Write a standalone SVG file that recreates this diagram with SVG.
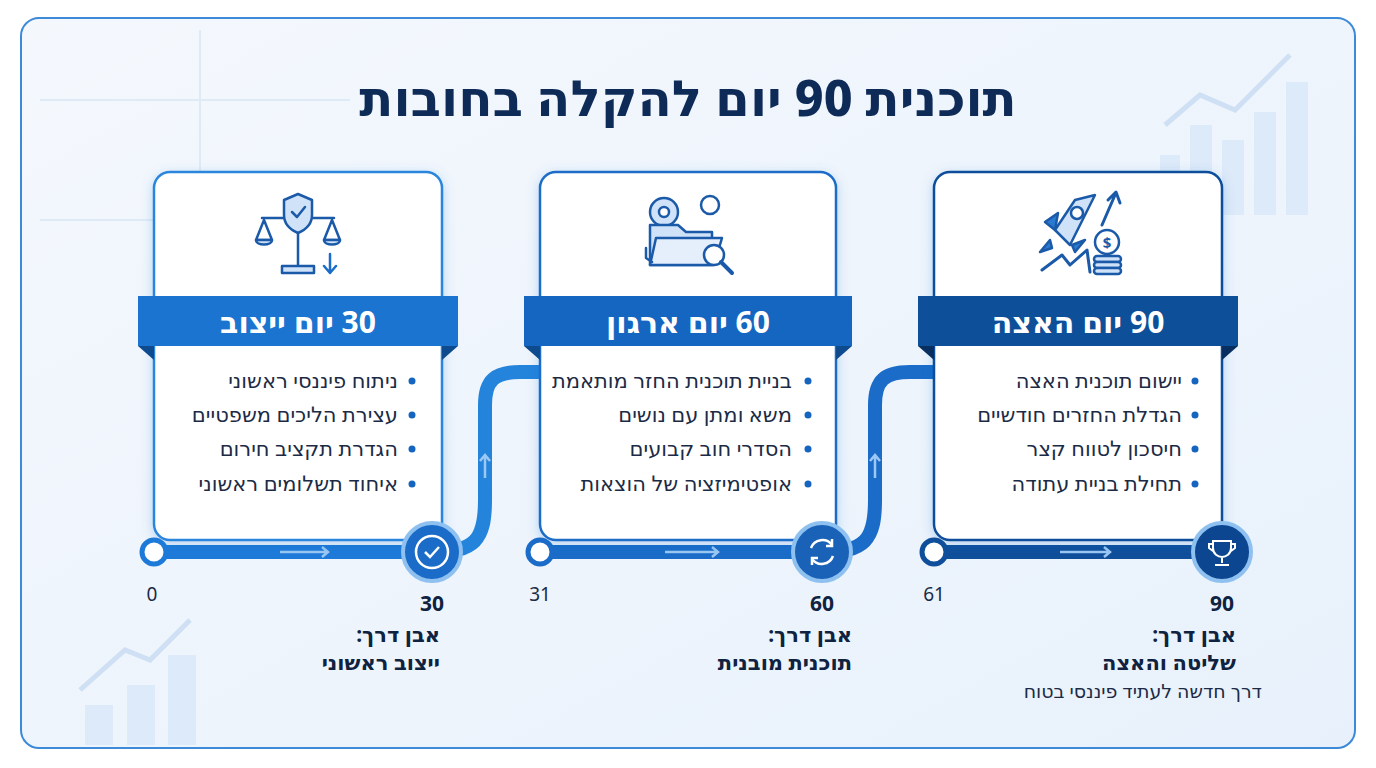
<svg xmlns="http://www.w3.org/2000/svg" width="1376" height="768" viewBox="0 0 1376 768">
<defs>
<style>
text{font-family:"Noto Sans","DejaVu Sans",sans-serif}
.rtl{direction:rtl}
.card{fill:#fff;stroke-width:2.5}
.hd{fill:#fff;font-size:30px;font-weight:700;text-anchor:middle}
.bl{fill:#1c2b45;font-size:21px;text-anchor:start}
.dot{fill:#1565c0}
.num{fill:#1c2b45;font-size:19px;text-anchor:middle}
.numb{fill:#0f2240;font-size:21px;font-weight:700;text-anchor:middle}
.ms{fill:#0f2240;font-size:21px;font-weight:700;text-anchor:start}
.ic{fill:#cfe2f8;stroke:#1a5aa8;stroke-width:2.5;stroke-linejoin:round;stroke-linecap:round}
.bg{fill:#d6e6f8;opacity:.7}
</style>
<linearGradient id="bgG" x1="0" y1="0" x2="1" y2="1"><stop offset="0" stop-color="#f4f8fd"/><stop offset="1" stop-color="#e8f1fb"/></linearGradient>
<filter id="sh" x="-20%" y="-20%" width="140%" height="140%"><feDropShadow dx="0" dy="3" stdDeviation="6" flood-color="#1e6fd0" flood-opacity=".25"/></filter>
</defs>
<rect x="0" y="0" width="1376" height="768" fill="#fff"/>
<rect x="21" y="18" width="1334" height="730" rx="18" fill="url(#bgG)" stroke="#3d8ad8" stroke-width="2"/>
<g id="decor">
<path d="M40 220 H350 M200 30 V300 M40 100 H350" stroke="#dfeaf7" stroke-width="2" fill="none"/>
<rect class="bg" x="1160" y="155" width="20" height="60"/><rect class="bg" x="1190" y="125" width="22" height="90"/><rect class="bg" x="1222" y="140" width="22" height="75"/><rect class="bg" x="1254" y="112" width="22" height="103"/><rect class="bg" x="1286" y="82" width="22" height="133"/>
<path d="M1165 125 L1200 95 L1235 110 L1290 55" stroke="#cfe0f5" stroke-width="5" fill="none"/>
<rect class="bg" x="85" y="705" width="28" height="40"/><rect class="bg" x="127" y="685" width="28" height="60"/><rect class="bg" x="168" y="655" width="28" height="90"/>
<path d="M80 690 L125 650 L150 660 L190 620" stroke="#cfe0f5" stroke-width="5" fill="none"/>
</g>
<text x="688" y="116" class="rtl" style="font-size:50px;font-weight:800;fill:#0e2a57;text-anchor:middle">תוכנית 90 יום להקלה בחובות</text>

<g id="connectors" fill="none">
<path d="M154 552 H432" stroke="#1e7ad8" stroke-width="14"/>
<path d="M432 552 C475 552 485 540 485 500 V405 C485 380 495 372 520 372 H545" stroke="#2484dc" stroke-width="14"/>
<path d="M540 552 H822" stroke="#1a6cc8" stroke-width="14"/>
<path d="M822 552 C865 552 875 540 875 500 V405 C875 380 885 372 910 372 H940" stroke="#1a6cc8" stroke-width="14"/>
<path d="M934 552 H1222" stroke="#0f4e9a" stroke-width="14"/>
<g stroke="#9cc8f3" stroke-width="2.5"><path d="M280 552 H328 M322 547 L328 552 L322 557"/><path d="M665 552 H718 M712 547 L718 552 L712 557"/><path d="M1060 552 H1110 M1104 547 L1110 552 L1104 557"/><path d="M485 478 V455 M480 461 L485 455 L490 461"/><path d="M875 478 V455 M870 461 L875 455 L880 461"/></g>
</g>

<g id="card1">
<rect class="card" x="154" y="172" width="288" height="368" rx="16" stroke="#2a86dc" filter="url(#sh)"/>
<path d="M138 346 L154 360 V346 Z M458 346 L442 360 V346 Z" fill="#0e4a8e"/>
<rect x="138" y="296" width="320" height="50" fill="#1b74d0"/>
<text x="298" y="333" class="hd rtl">30 יום ייצוב</text>
<g class="ic"><path d="M298 205 V268 M262 218 H334" fill="none"/><path d="M284 200 L298 194 L312 200 V215 C312 225 305 230 298 233 C291 230 284 225 284 215 Z"/><path d="M292 212 L297 217 L305 207" fill="none"/><path d="M256 240 L264 220 L272 240 Z M324 240 L332 220 L340 240 Z" fill="none"/><path d="M256 240 H272 C272 246 256 246 256 240 Z M324 240 H340 C340 246 324 246 324 240 Z"/><rect x="282" y="266" width="32" height="7"/><path d="M330 254 V272 M324 266 L330 273 L336 266" fill="none" stroke="#1a6cc8"/></g>
<g class="rtl"><text class="bl" x="398" y="388">ניתוח פיננסי ראשוני</text><text class="bl" x="398" y="422">עצירת הליכים משפטיים</text><text class="bl" x="398" y="456">הגדרת תקציב חירום</text><text class="bl" x="398" y="491">איחוד תשלומים ראשוני</text></g>
<g class="dot"><circle cx="412" cy="381" r="3.5"/><circle cx="412" cy="415" r="3.5"/><circle cx="412" cy="449" r="3.5"/><circle cx="412" cy="484" r="3.5"/></g>
<circle cx="154" cy="552" r="12" fill="#fff" stroke="#1e7ad8" stroke-width="5"/>
<circle cx="432" cy="552" r="29" fill="#1b6cc8" stroke="#8ec0f0" stroke-width="4"/>
<circle cx="432" cy="552" r="16" fill="none" stroke="#fff" stroke-width="2.5"/><path d="M425 552 L430 557 L439 547" fill="none" stroke="#fff" stroke-width="2.5"/>
<text class="num" x="152" y="601">0</text><text class="numb" x="432" y="611">30</text>
<g class="rtl"><text class="ms" x="440" y="642">אבן דרך:</text><text class="ms" x="440" y="670">ייצוב ראשוני</text></g>
</g>

<g id="card2">
<rect class="card" x="540" y="172" width="296" height="368" rx="16" stroke="#1a6cc8" filter="url(#sh)"/>
<path d="M524 346 L540 360 V346 Z M852 346 L836 360 V346 Z" fill="#0e4a8e"/>
<rect x="524" y="296" width="328" height="50" fill="#1566c0"/>
<text x="688" y="333" class="hd rtl">60 יום ארגון</text>
<g class="ic"><circle cx="664" cy="212" r="14"/><circle cx="664" cy="212" r="5" fill="#fff"/><circle cx="710" cy="205" r="9" fill="#fff"/><path d="M650 225 H678 L686 232 H712 V265 H650 Z"/><path d="M656 238 H722 L714 265 H650 Z" fill="#e4effb"/><circle cx="714" cy="255" r="10" fill="#fff"/><path d="M721 262 L732 273" fill="none" stroke-width="4"/><path d="M646 248 V258 L652 262" fill="none"/></g>
<g class="rtl"><text class="bl" x="792" y="388">בניית תוכנית החזר מותאמת</text><text class="bl" x="792" y="422">משא ומתן עם נושים</text><text class="bl" x="792" y="456">הסדרי חוב קבועים</text><text class="bl" x="792" y="491">אופטימיזציה של הוצאות</text></g>
<g class="dot"><circle cx="808" cy="381" r="3.5"/><circle cx="808" cy="415" r="3.5"/><circle cx="808" cy="449" r="3.5"/><circle cx="808" cy="484" r="3.5"/></g>
<circle cx="540" cy="552" r="12" fill="#fff" stroke="#1a6cc8" stroke-width="5"/>
<circle cx="822" cy="552" r="29" fill="#1a62b8" stroke="#8ec0f0" stroke-width="4"/>
<path d="M811 548 A12 12 0 0 1 832 545 M833 556 A12 12 0 0 1 812 559" fill="none" stroke="#fff" stroke-width="2.5"/><path d="M832 539 V546 H826 M812 565 V558 H818" fill="none" stroke="#fff" stroke-width="2.5"/>
<text class="num" x="540" y="601">31</text><text class="numb" x="822" y="611">60</text>
<g class="rtl"><text class="ms" x="852" y="642">אבן דרך:</text><text class="ms" x="852" y="670">תוכנית מובנית</text></g>
</g>

<g id="card3">
<rect class="card" x="934" y="172" width="288" height="368" rx="16" stroke="#0f4e9a" filter="url(#sh)"/>
<path d="M918 346 L934 360 V346 Z M1238 346 L1222 360 V346 Z" fill="#082f60"/>
<rect x="918" y="296" width="320" height="50" fill="#0d4f98"/>
<text x="1078" y="333" class="hd rtl">90 יום האצה</text>
<g class="ic"><path d="M1095 195 L1075 200 L1055 230 L1070 245 Z"/><circle cx="1077" cy="213" r="6" fill="#fff"/><path d="M1058 213 L1045 222 L1055 230 Z M1085 240 L1072 245 L1075 252 Z" fill="#2a7ad0"/><path d="M1050 240 L1040 252 L1052 248 Z" fill="#2a7ad0"/><path d="M1042 270 L1062 255 L1070 265 L1087 250 L1090 272" fill="none" stroke-width="3"/><path d="M1102 225 L1115 195 M1108 200 L1116 192 L1120 203" fill="none" stroke-width="3"/><circle cx="1107" cy="242" r="12" fill="#fff"/><rect x="1094" y="256" width="27" height="6" rx="3"/><rect x="1094" y="262" width="27" height="6" rx="3"/><rect x="1094" y="268" width="27" height="6" rx="3"/></g>
<text x="1107" y="248" style="font-size:15px;font-weight:700;fill:#1a5aa8;text-anchor:middle">$</text>
<g class="rtl"><text class="bl" x="1182" y="388">יישום תוכנית האצה</text><text class="bl" x="1182" y="422">הגדלת החזרים חודשיים</text><text class="bl" x="1182" y="456">חיסכון לטווח קצר</text><text class="bl" x="1182" y="491">תחילת בניית עתודה</text></g>
<g class="dot"><circle cx="1195" cy="381" r="3.5"/><circle cx="1195" cy="415" r="3.5"/><circle cx="1195" cy="449" r="3.5"/><circle cx="1195" cy="484" r="3.5"/></g>
<circle cx="934" cy="552" r="12" fill="#fff" stroke="#0f4e9a" stroke-width="5"/>
<circle cx="1222" cy="552" r="29" fill="#0d4690" stroke="#8ec0f0" stroke-width="4"/>
<path d="M1213 541 H1231 V548 C1231 554 1226 557 1222 557 C1218 557 1213 554 1213 548 Z M1222 557 V563 M1215 565 H1229 M1213 544 H1209 V548 L1213 551 M1231 544 H1235 V548 L1231 551" fill="none" stroke="#fff" stroke-width="2"/>
<text class="num" x="934" y="601">61</text><text class="numb" x="1222" y="611">90</text>
<g class="rtl"><text class="ms" x="1236" y="642">אבן דרך:</text><text class="ms" x="1236" y="670">שליטה והאצה</text><text x="1262" y="698" style="font-size:19px;fill:#1c2b45;text-anchor:start">דרך חדשה לעתיד פיננסי בטוח</text></g>
</g>
</svg>
